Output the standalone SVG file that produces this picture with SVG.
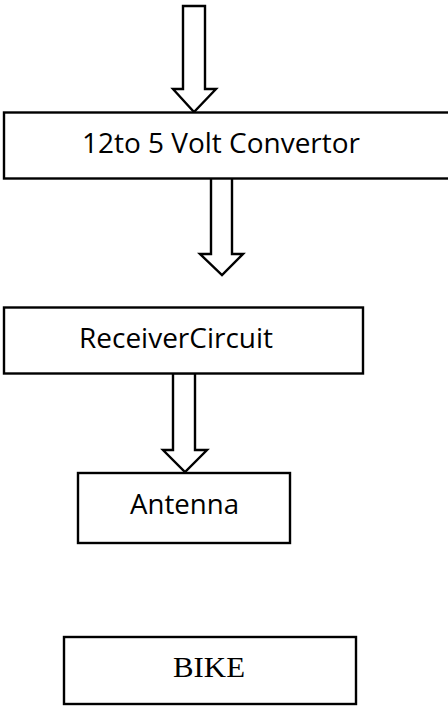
<svg xmlns="http://www.w3.org/2000/svg" width="448" height="708" viewBox="0 0 448 708">
<style>
.box{fill:#fff;stroke:#000;stroke-width:2.4}
.arr{fill:#fff;stroke:#000;stroke-width:2.4;stroke-linejoin:miter}
.t{font-family:"Open Sans","Noto Sans",sans-serif;font-size:28px;fill:#000;text-anchor:start}
.s{font-family:"Liberation Serif","Times New Roman",serif;font-size:30px;fill:#000}
</style>
<rect width="448" height="708" fill="#fff"/>
<g id="connectors">
<polygon class="arr" points="183,6 205,6 205,89 216,89 194,112 173,89 183,89"/>
<polygon class="arr" points="211,177 232,177 232,254 243,254 222,275 200,254 211,254"/>
<polygon class="arr" points="173,373 195,373 195,450 207,450 185,472 163,450 173,450"/>
</g>
<g id="converter">
<rect class="box" x="4" y="112.5" width="460" height="66"/>
<text class="t" x="82" y="153" textLength="278" lengthAdjust="spacingAndGlyphs">12to 5 Volt Convertor</text>
</g>
<g id="receiver">
<rect class="box" x="4" y="307.5" width="359" height="66"/>
<text class="t" x="79" y="348" textLength="194" lengthAdjust="spacingAndGlyphs">ReceiverCircuit</text>
</g>
<g id="antenna">
<rect class="box" x="78" y="473" width="212" height="70"/>
<text class="t" x="130" y="514" textLength="109" lengthAdjust="spacingAndGlyphs">Antenna</text>
</g>
<g id="bike">
<rect class="box" x="64" y="637" width="292" height="67"/>
<text class="s" x="173" y="677" textLength="72" lengthAdjust="spacingAndGlyphs">BIKE</text>
</g>
</svg>
